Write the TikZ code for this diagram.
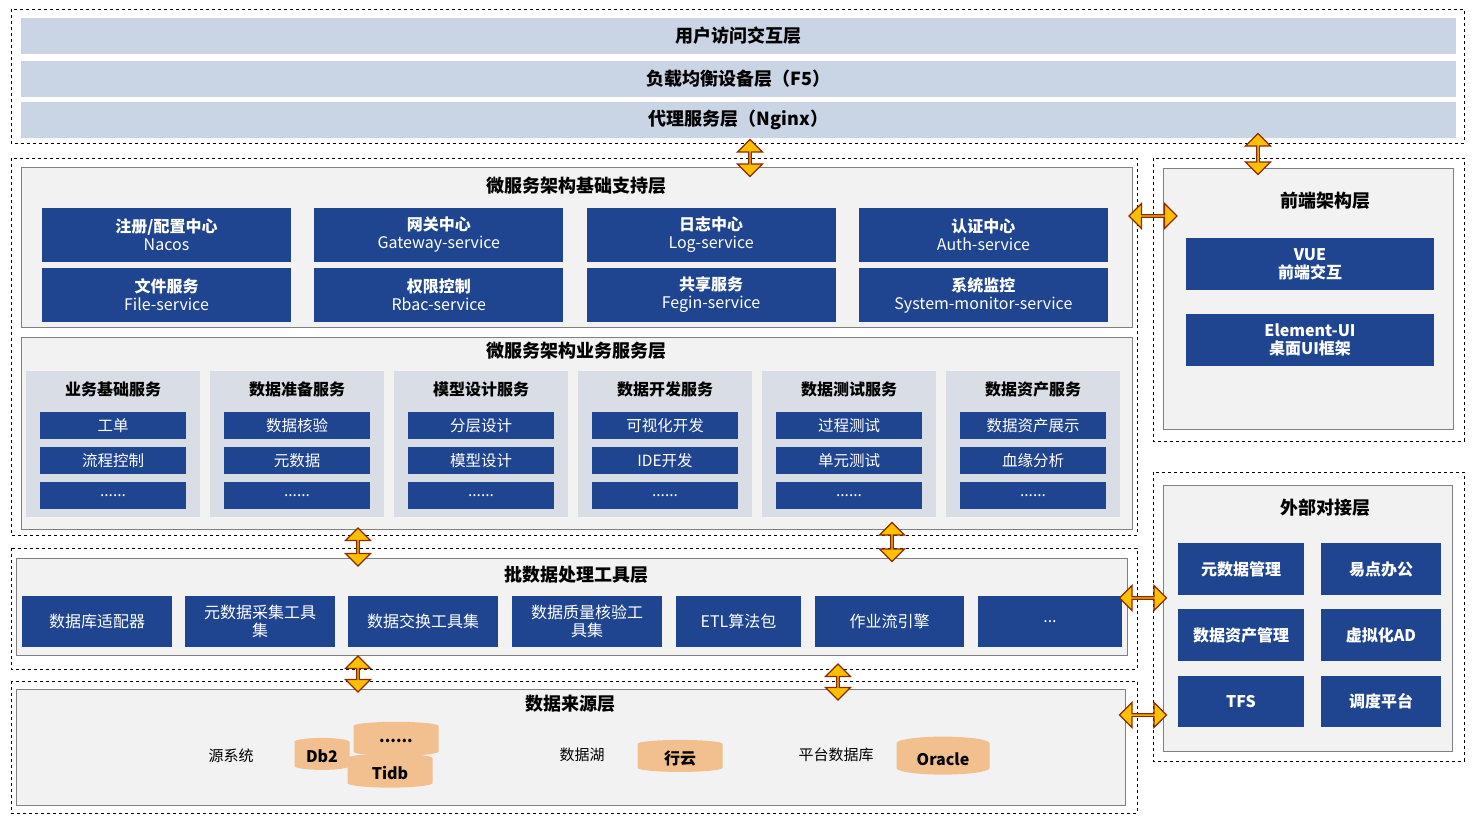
\documentclass[tikz,border=0pt]{standalone}
\usepackage{fontspec}
\setmainfont{Noto Sans CJK SC}
\usetikzlibrary{shapes.geometric,shapes.arrows}
\definecolor{deepblue}{HTML}{1F4490}
\definecolor{barblue}{HTML}{C9D4E5}
\definecolor{subgray}{HTML}{D9DEE6}
\definecolor{panelgray}{HTML}{F2F2F2}
\definecolor{arrowfill}{HTML}{FFC000}
\definecolor{arrowline}{HTML}{8B2A00}
\definecolor{dbfill}{HTML}{F2C08E}
\tikzset{
  bar/.style={fill=barblue,draw=none,inner sep=0pt,font=\fontsize{18}{20}\selectfont\bfseries},
  blue box/.style={fill=deepblue,draw=none,text=white,inner sep=0pt,align=center,font=\fontsize{16}{18}\selectfont},
  item/.style={blue box,font=\fontsize{15.5}{17}\selectfont},
  panel/.style={fill=panelgray,draw=gray,line width=0.8pt},
  subpanel/.style={fill=subgray,draw=none},
  outer/.style={draw=black,dashed,line width=0.7pt},
  title/.style={font=\fontsize{18}{20}\selectfont\bfseries},
  subtitle/.style={font=\fontsize{16}{18}\selectfont\bfseries},
  plain/.style={font=\fontsize{15}{17}\selectfont},
  db/.style={cylinder,shape border rotate=90,aspect=0.25,fill=dbfill,draw=none,
    inner sep=0pt,font=\fontsize{16}{18}\selectfont\bfseries},
  link/.style={double arrow,fill=arrowfill,draw=arrowline,line width=1.2pt,inner sep=0pt,
    minimum width=25pt,double arrow head extend=5pt},
}
% box from corner to corner, in pixels
\newcommand{\rbox}[7]{\node[#2,minimum width={(#5)-(#3)},minimum height={(#6)-(#4)}] (#1) at ({((#3)+(#5))/2},{((#4)+(#6))/2}) {#7};}
\begin{document}
\begin{tikzpicture}[x=1pt,y=-1pt]
\useasboundingbox (0,0) rectangle (1478,828);
% access layers
\draw[outer] (11,9) rectangle (1464,143);
\rbox{user}{bar}{21}{18}{1456}{54}{用户访问交互层}
\rbox{lb}{bar}{21}{61}{1456}{97}{负载均衡设备层（F5）}
\rbox{proxy}{bar}{21}{102}{1456}{138}{代理服务层（Nginx）}
% micro service layers
\draw[outer] (11,158) rectangle (1137,535);
\draw[panel] (21,167) rectangle (1132,327);
\node[title] (base) at (576,186) {微服务架构基础支持层};
\foreach \n/\a/\b [count=\i from 0] in {reg/{注册/配置中心}/Nacos,gw/网关中心/Gateway-service,log/日志中心/Log-service,auth/认证中心/Auth-service}
  \rbox{\n}{blue box}{42+\i*272.3}{208}{291+\i*272.3}{262}{\textbf{\a}\\\b}
\foreach \n/\a/\b [count=\i from 0] in {file/文件服务/File-service,rbac/权限控制/Rbac-service,share/共享服务/Fegin-service,mon/系统监控/System-monitor-service}
  \rbox{\n}{blue box}{42+\i*272.3}{268}{291+\i*272.3}{322}{\textbf{\a}\\\b}
\draw[panel] (21,337) rectangle (1132,529);
\node[title] (biz) at (576,351) {微服务架构业务服务层};
\foreach \t/\p/\q [count=\i from 0] in {业务基础服务/工单/流程控制,数据准备服务/数据核验/元数据,模型设计服务/分层设计/模型设计,数据开发服务/可视化开发/IDE开发,数据测试服务/过程测试/单元测试,数据资产服务/数据资产展示/血缘分析}{
  \rbox{sp\i}{subpanel}{26+\i*184}{371}{200+\i*184}{517}{}
  \node[subtitle] (st\i) at (113+\i*184,389) {\t};
  \rbox{ia\i}{item}{40+\i*184}{412}{186+\i*184}{439}{\p}
  \rbox{ib\i}{item}{40+\i*184}{447}{186+\i*184}{474}{\q}
  \rbox{ic\i}{item}{40+\i*184}{482}{186+\i*184}{509}{......}
}
% batch tools
\draw[outer] (11,548) rectangle (1137,669);
\draw[panel] (16,558) rectangle (1127,655);
\node[title] (batch) at (576,575) {批数据处理工具层};
\rbox{t1}{blue box}{22}{596}{172}{647}{数据库适配器}
\rbox{t2}{blue box}{185}{596}{335}{647}{元数据采集工具\\集}
\rbox{t3}{blue box}{348}{596}{498}{647}{数据交换工具集}
\rbox{t4}{blue box}{512}{596}{662}{647}{数据质量核验工\\具集}
\rbox{t5}{blue box}{676}{596}{801}{647}{ETL算法包}
\rbox{t6}{blue box}{815}{596}{964}{647}{作业流引擎}
\rbox{t7}{blue box}{978}{596}{1122}{647}{...}
% sources
\draw[outer] (11,681) rectangle (1137,813);
\draw[panel] (16,689) rectangle (1125,805);
\node[title] (src) at (570,704) {数据来源层};
\node[plain] (sys) at (231,756) {源系统};
\node[db,minimum width=55pt,minimum height=32pt] (db2) at (322,756) {Db2};
\node[db,minimum width=85pt,minimum height=34pt] (more) at (396,741) {......};
\node[db,minimum width=85pt,minimum height=34pt] (tidb) at (390,773) {Tidb};
\node[plain] (lake) at (582,755) {数据湖};
\node[db,minimum width=85pt,minimum height=32pt] (xy) at (680,758) {行云};
\node[plain] (pdb) at (836,755) {平台数据库};
\node[db,minimum width=93pt,minimum height=38pt] (ora) at (943,759) {Oracle};
% front end
\draw[outer] (1153,158) rectangle (1464,441);
\draw[panel] (1163,168) rectangle (1453,429);
\node[title] (fe) at (1325,201) {前端架构层};
\rbox{vue}{blue box}{1186}{238}{1434}{290}{\textbf{VUE}\\\textbf{前端交互}}
\rbox{elem}{blue box}{1186}{314}{1434}{366}{\textbf{Element-UI}\\\textbf{桌面UI框架}}
% external
\draw[outer] (1153,472) rectangle (1464,761);
\draw[panel] (1163,485) rectangle (1452,751);
\node[title] (ext) at (1325,508) {外部对接层};
\rbox{e1}{blue box}{1178}{543}{1304}{595}{\textbf{元数据管理}}
\rbox{e2}{blue box}{1321}{543}{1441}{595}{\textbf{易点办公}}
\rbox{e3}{blue box}{1178}{609}{1304}{661}{\textbf{数据资产管理}}
\rbox{e4}{blue box}{1321}{609}{1441}{661}{\textbf{虚拟化AD}}
\rbox{e5}{blue box}{1178}{676}{1304}{727}{\textbf{TFS}}
\rbox{e6}{blue box}{1321}{676}{1441}{727}{\textbf{调度平台}}
% links
\node[link,rotate=90,minimum height=37pt] (l1) at (750,158) {};
\node[link,rotate=90,minimum height=41pt] (l2) at (1258,154) {};
\node[link,minimum height=48pt] (l3) at (1153,216) {};
\node[link,rotate=90,minimum height=38pt] (l4) at (358,547) {};
\node[link,rotate=90,minimum height=39pt] (l5) at (892,542) {};
\node[link,rotate=90,minimum height=36pt] (l6) at (358,674) {};
\node[link,rotate=90,minimum height=36pt] (l7) at (838,682) {};
\node[link,minimum height=47pt] (l8) at (1143,598) {};
\node[link,minimum height=47pt] (l9) at (1143,715) {};
\end{tikzpicture}
\end{document}
